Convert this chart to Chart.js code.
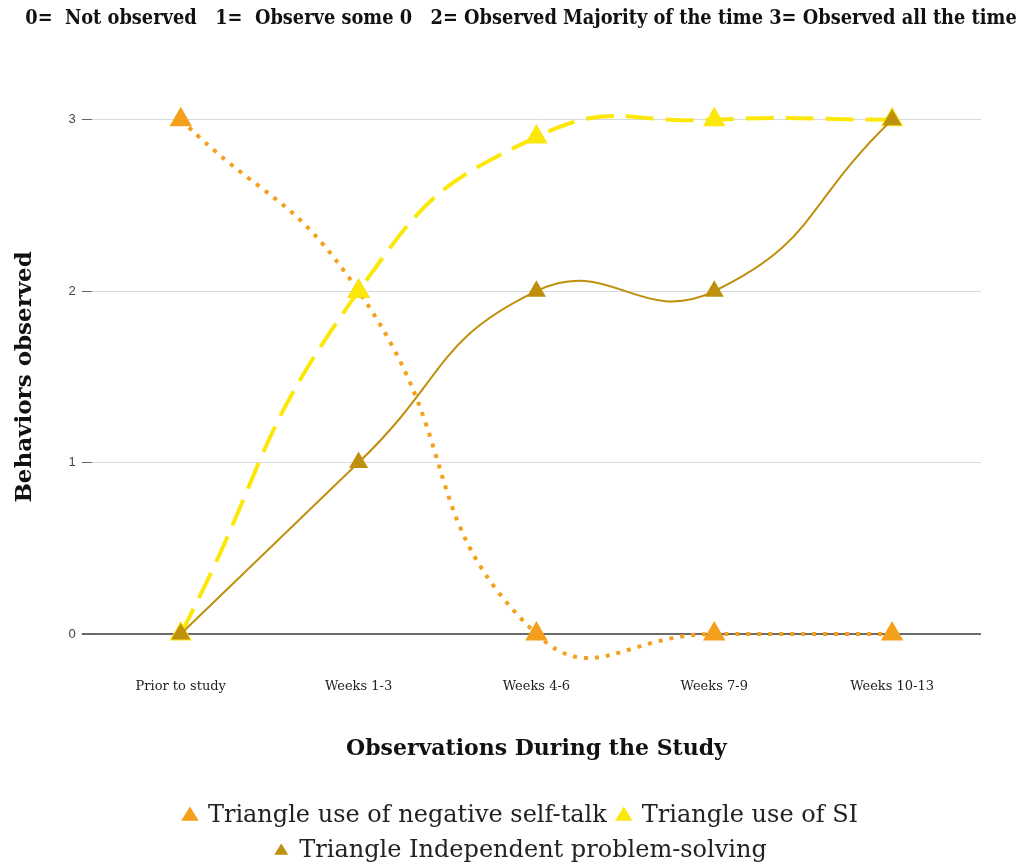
<!DOCTYPE html>
<html>
<head>
<meta charset="utf-8">
<script src="https://cdn.jsdelivr.net/npm/chart.js@4.4.1/dist/chart.umd.min.js"></script>
<style>
  html, body { margin: 0; padding: 0; background: #fff; }
  #wrap { width: 1031px; height: 864px; }
</style>
</head>
<body>
<div id="wrap"><canvas id="mainChart"></canvas></div>
<script>
// data
const periods = ['Prior to study', 'Weeks 1-3', 'Weeks 4-6', 'Weeks 7-9', 'Weeks 10-13'];
const negativeSelfTalk = [3, 2, 0, 0, 0];
const useOfSI = [0, 2, 2.9, 3, 3];
const problemSolving = [0, 1, 2, 2, 3];
const yTicks = [0, 1, 2, 3];

const serif = '"DejaVu Serif", Georgia, serif';

const ctxMain = document.getElementById('mainChart').getContext('2d');
const mainChart = new Chart(ctxMain, {
  type: 'line',
  data: {
    labels: periods,
    datasets: [
      {
        label: 'Triangle use of negative self-talk',
        data: negativeSelfTalk,
        borderColor: '#f4a01c',
        backgroundColor: '#f4a01c',
        borderWidth: 4,
        borderDash: [4, 7],
        order: 2,
      },
      {
        label: 'Triangle use of SI',
        data: useOfSI,
        borderColor: '#fbe80a',
        backgroundColor: '#fbe80a',
        borderWidth: 4,
        borderDash: [28, 12],
        order: 1,
      },
      {
        label: 'Triangle Independent problem-solving',
        data: problemSolving,
        borderColor: '#bf900e',
        backgroundColor: '#bf900e',
        borderWidth: 2,
        order: 0,
      }
    ]
  },
  options: {
    responsive: true,
    maintainAspectRatio: false,
    animation: false,
    layout: { padding: { left: 11, right: 0, top: 7, bottom: -9 } },
    elements: {
      line: { tension: 0.5, capBezierPoints: false, fill: false },
      point: { pointStyle: 'triangle', radius: 9, borderWidth: 0 }
    },
    datasets: { line: { clip: false } },
    plugins: {
      title: {
        display: true,
        text: '0=  Not observed   1=  Observe some 0   2= Observed Majority of the time 3= Observed all the time',
        color: '#111',
        font: { family: '"DejaVu Serif Condensed", "Liberation Serif", serif', size: 19.8, weight: 'bold' },
        padding: { top: 0, bottom: 89 }
      },
      legend: {
        position: 'bottom',
        labels: {
          usePointStyle: true,
          pointStyleWidth: 12,
          boxHeight: 8,
          color: '#222',
          padding: 11,
          font: { family: serif, size: 24 },
          sort: (a, b) => a.datasetIndex - b.datasetIndex
        }
      },
      tooltip: { enabled: false }
    },
    scales: {
      x: {
        offset: true,
        grid: { display: false, drawTicks: false },
        border: { display: false },
        ticks: { color: '#222', padding: 45, font: { family: serif, size: 13 } },
        title: {
          display: true,
          text: 'Observations During the Study',
          color: '#111',
          font: { family: serif, size: 22, weight: 'bold' },
          padding: { top: -4, bottom: 31 }
        }
      },
      y: {
        min: 0,
        max: 3,
        afterBuildTicks: (scale) => { scale.ticks = yTicks.map(v => ({ value: v })); },
        grid: {
          color: (c) => c.tick && c.tick.value === 0 ? '#6b6b6b' : '#d9d9d9',
          lineWidth: (c) => c.tick && c.tick.value === 0 ? 2 : 1,
          tickColor: '#666',
          tickLength: 10
        },
        border: { display: false },
        ticks: { color: '#444', padding: 6, font: { family: '"Liberation Sans", Arial, sans-serif', size: 13 } },
        title: {
          display: true,
          text: 'Behaviors observed',
          color: '#111',
          font: { family: serif, size: 23, weight: 'bold' },
          padding: { top: 0, bottom: 24 }
        }
      },
      // empty right margin so the title and legend centre on the whole page
      yRight: {
        position: 'right',
        grid: { display: false, drawTicks: false },
        border: { display: false },
        ticks: { display: false },
        afterFit: (scale) => { scale.width = 50; }
      }
    }
  }
});
</script>
</body>
</html>
